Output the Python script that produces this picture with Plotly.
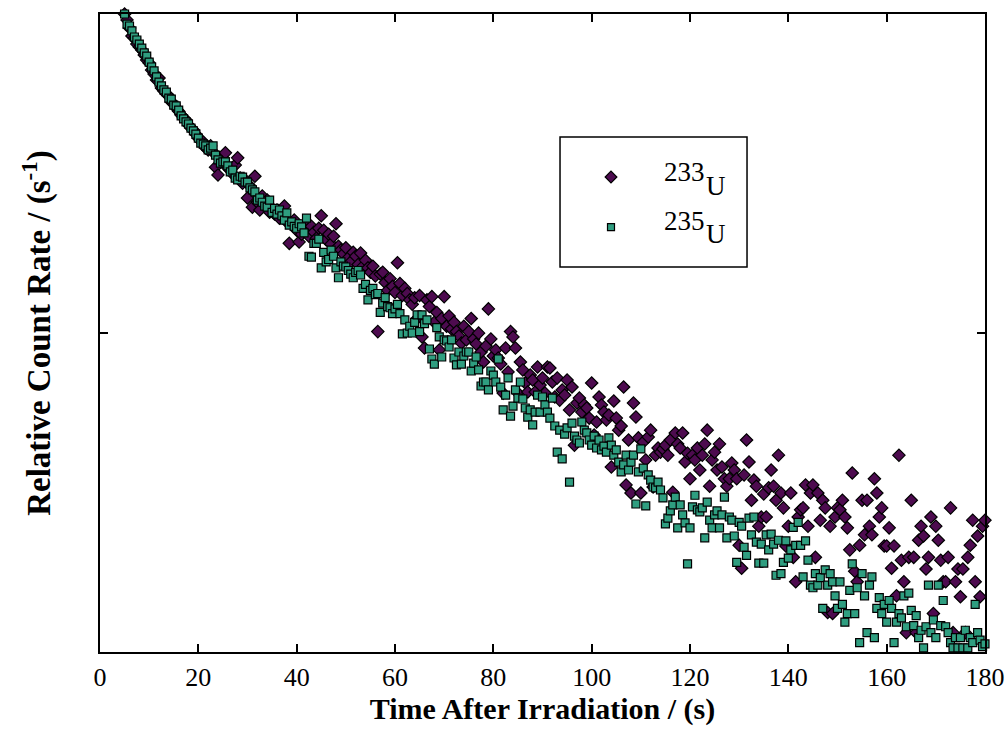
import numpy as np
import plotly.graph_objects as go

# Sample times (s): one reading every 0.5 s from 5 s to 180 s
time_s = np.arange(5.0, 180.0 + 0.25, 0.5)

# Relative count rate (scaled so the first reading = 1000), 233U
rate_233 = [
    1000, 958, 904, 853, 841, 805, 788, 771, 744, 717,
    702, 667, 648, 621, 630, 586, 574, 561, 553, 530,
    522, 507, 496, 482, 472, 465, 449, 439, 433, 420,
    408, 400, 397, 380, 375, 386, 369, 331, 313, 349,
    354, 367, 329, 324, 315, 336, 354, 306, 295, 302,
    265, 289, 248, 310, 257, 243, 269, 252, 261, 239,
    246, 236, 243, 229, 239, 250, 223, 191, 220, 226,
    210, 193, 204, 216, 220, 201, 216, 207, 198, 213,
    233, 210, 196, 204, 190, 201, 220, 187, 182, 177,
    185, 172, 167, 179, 174, 164, 178, 162, 169, 160,
    155, 162, 151, 101, 153, 155, 144, 136, 148, 140,
    134, 166, 143, 131, 138, 133, 127, 123, 129, 111,
    131, 97.2, 89.7, 127, 121, 130, 108, 116, 88.5, 111,
    130, 105, 113, 103, 108, 101, 97.9, 93.0, 105, 95.1,
    101, 111, 95.8, 92.4, 99.9, 87.2, 81.1, 91.0, 119, 95.8,
    84.7, 88.5, 83.5, 79.9, 64.8, 89.7, 75.5, 101, 97.2, 89.7,
    64.8, 81.1, 76.6, 69.7, 65.3, 73.8, 71.2, 65.3, 78.2, 68.7,
    72.3, 64.8, 78.2, 77.7, 70.2, 63.0, 72.3, 61.6, 66.3, 63.9,
    71.2, 57.4, 67.7, 44.5, 60.3, 62.5, 56.5, 59.5, 58.2, 54.1,
    69.7, 47.9, 52.6, 63.0, 59.5, 56.5, 53.4, 55.3, 38.0, 61.2,
    54.1, 49.6, 51.1, 67.7, 33.4, 46.2, 31.5, 60.3, 54.5, 46.9,
    31.5, 45.5, 40.0, 47.2, 49.6, 32.9, 41.4, 43.6, 42.3, 43.3,
    44.5, 41.4, 46.2, 31.7, 48.6, 44.9, 43.6, 48.6, 39.4, 42.0,
    34.9, 41.4, 40.0, 43.6, 37.2, 41.4, 44.9, 49.6, 33.1, 40.0,
    42.3, 37.2, 44.9, 38.0, 34.9, 33.1, 34.9, 39.1, 37.2, 34.9,
    21.6, 18.3, 35.9, 46.2, 39.4, 29.9, 34.6, 33.1, 24.8, 26.5,
    31.3, 26.5, 32.7, 37.2, 33.1, 29.9, 41.4, 31.5, 28.3, 21.5,
    24.8, 31.5, 19.8, 16.6, 26.5, 27.9, 28.3, 33.4, 24.8, 31.5,
    33.4, 19.8, 31.5, 25.9, 29.9, 28.3, 13.3, 24.8, 13.2, 26.5,
    28.3, 27.9, 29.9, 26.5, 24.5, 20.9, 36.4, 17.9, 16.6, 21.6,
    29.9, 23.3, 29.9, 24.8, 23.3, 34.9, 31.5, 26.5, 28.3, 21.5,
    21.5, 24.5, 18.3, 21.5, 15.0, 41.4, 19.4, 16.6, 11.5, 19.8,
    29.9, 19.8, 11.5, 22.4, 24.8, 23.1, 18.2, 19.8, 26.5, 13.2,
    24.8, 22.4, 19.4, 16.6, 16.6, 19.8, 28.3, 11.5, 16.6, 18.2,
    14.9, 18.2, 11.5, 19.8, 21.6, 25.9, 16.6, 23.1, 14.9, 24.8,
    25.9,
]

# Relative count rate (scaled so the first reading = 1000), 235U
rate_235 = [
    1000, 930, 917, 885, 847, 829, 805, 782, 755, 738,
    707, 682, 663, 635, 612, 595, 578, 569, 545, 541,
    518, 515, 500, 479, 469, 459, 452, 439, 430, 420,
    408, 394, 391, 386, 375, 380, 386, 361, 349, 341,
    344, 344, 334, 320, 324, 306, 302, 310, 308, 297,
    297, 285, 281, 277, 261, 265, 257, 250, 248, 261,
    239, 246, 236, 243, 233, 226, 238, 218, 223, 216,
    213, 220, 215, 206, 229, 174, 173, 191, 191, 197,
    160, 179, 167, 170, 182, 174, 160, 149, 167, 162,
    161, 157, 153, 149, 155, 157, 152, 138, 142, 127,
    136, 138, 132, 133, 116, 124, 129, 121, 120, 115,
    119, 123, 115, 99.3, 110, 100, 105, 100, 108, 114,
    101, 114, 107, 110, 89.1, 82.9, 79.9, 104, 97.2, 84.1,
    95.1, 94.4, 90.4, 95.1, 83.5, 79.4, 87.2, 79.9, 84.7, 87.2,
    87.2, 76.0, 80.5, 84.1, 76.6, 68.2, 70.2, 70.2, 66.3, 76.0,
    73.8, 70.2, 82.9, 67.7, 57.4, 63.9, 72.3, 54.9, 59.0, 66.3,
    62.5, 70.2, 62.1, 58.2, 54.5, 57.4, 51.5, 56.5, 63.9, 56.5,
    63.0, 59.5, 56.5, 54.1, 62.5, 51.1, 42.3, 49.6, 40.3, 48.2,
    50.4, 34.1, 52.2, 47.5, 46.2, 45.2, 52.6, 49.6, 48.6, 46.2,
    44.5, 47.5, 43.6, 46.2, 43.0, 44.2, 42.3, 46.9, 44.5, 41.4,
    43.0, 39.4, 36.7, 38.6, 41.4, 37.2, 39.4, 41.4, 29.1, 36.7,
    43.3, 37.7, 28.7, 35.9, 34.6, 32.9, 32.7, 34.1, 32.2, 30.4,
    25.2, 26.3, 27.7, 28.9, 30.6, 24.5, 28.9, 26.9, 25.4, 18.9,
    24.5, 28.5, 31.0, 27.9, 27.5, 28.3, 22.8, 29.5, 25.9, 24.5,
    26.9, 27.7, 24.5, 26.9, 30.6, 22.8, 26.5, 25.9, 23.1, 19.1,
    25.5, 24.8, 21.3, 20.1, 26.3, 23.3, 26.5, 22.1, 19.0, 21.8,
    19.0, 23.3, 20.9, 23.4, 21.8, 17.4, 22.4, 17.6, 19.1, 22.3,
    19.7, 20.9, 24.6, 21.6, 25.5, 21.6, 17.2, 22.3, 19.4, 16.2,
    15.9, 17.6, 16.2, 17.1, 13.7, 18.1, 16.2, 17.6, 16.6, 15.0,
    13.7, 16.6, 14.1, 12.4, 13.2, 15.6, 18.9, 13.2, 15.9, 10.7,
    17.6, 15.0, 11.5, 16.2, 17.2, 11.1, 13.7, 14.8, 13.2, 14.1,
    12.4, 14.5, 13.7, 10.7, 12.4, 13.2, 12.8, 15.0, 12.0, 15.3,
    13.5, 12.1, 13.0, 11.1, 11.7, 10.3, 12.0, 16.2, 11.5, 12.6,
    11.1, 16.2, 12.1, 14.5, 12.0, 11.5, 10.7, 10.3, 11.1, 10.3,
    11.1, 10.3, 11.7, 10.3, 11.1, 10.7, 14.1, 11.5, 10.9, 10.4,
    10.6,
]

x_ticks = [0, 20, 40, 60, 80, 100, 120, 140, 160, 180]
series_names = ["233", "235"]

assert len(rate_233) == len(time_s), len(rate_233)
assert len(rate_235) == len(time_s), len(rate_235)

PURPLE = "#4d0b4f"
GREEN = "#2f9e80"
FONT = "Liberation Serif"

fig = go.Figure()
fig.add_trace(go.Scatter(
    x=time_s, y=rate_233, mode="markers", name="233U", cliponaxis=False,
    marker=dict(symbol="diamond", size=9.5, color=PURPLE,
                line=dict(color="black", width=1.2)),
    showlegend=False,
))
fig.add_trace(go.Scatter(
    x=time_s, y=rate_235, mode="markers", name="235U", cliponaxis=False,
    marker=dict(symbol="square", size=8, color=GREEN,
                line=dict(color="black", width=1.2)),
    showlegend=False,
))

# Custom legend (box drawn in paper coordinates)
fig.add_trace(go.Scatter(
    x=[0.5774], y=[0.7445], xaxis="x2", yaxis="y2", mode="markers",
    cliponaxis=False, showlegend=False, hoverinfo="skip",
    marker=dict(symbol="diamond", size=9, color=PURPLE,
                line=dict(color="black", width=1.2)),
))
fig.add_trace(go.Scatter(
    x=[0.5774], y=[0.6661], xaxis="x2", yaxis="y2", mode="markers",
    cliponaxis=False, showlegend=False, hoverinfo="skip",
    marker=dict(symbol="square", size=7, color=GREEN,
                line=dict(color="black", width=1.2)),
))

fig.add_shape(type="rect", xref="paper", yref="paper",
              x0=0.5198, x1=0.7311, y0=0.6034, y1=0.8072,
              line=dict(color="black", width=1.5), fillcolor="rgba(0,0,0,0)")

leg_font = dict(family=FONT, size=27, color="black")
for name, ynum, yu in [(series_names[0], 0.752, 0.731), (series_names[1], 0.6755, 0.655)]:
    fig.add_annotation(x=0.635, y=ynum, xref="paper", yref="paper", text=name,
                       showarrow=False, xanchor="left", yanchor="middle", font=leg_font)
    fig.add_annotation(x=0.6825, y=yu, xref="paper", yref="paper", text="U",
                       showarrow=False, xanchor="left", yanchor="middle", font=leg_font)

fig.update_layout(
    width=1005, height=746,
    margin=dict(l=100, r=20, t=14, b=94, autoexpand=False),
    paper_bgcolor="white", plot_bgcolor="white",
    font=dict(family=FONT, color="black"),
    xaxis=dict(
        range=[0, 180], tickvals=x_ticks, ticktext=[str(v) for v in x_ticks],
        ticks="inside", ticklen=8, tickwidth=1.5, tickcolor="black",
        showline=True, linecolor="black", linewidth=2, mirror="ticks",
        showgrid=False, zeroline=False, ticklabelstandoff=1,
        ticklabeloverflow="allow", automargin=False,
        tickfont=dict(family=FONT, size=26, color="black"),
        title=dict(text="<b>Time After Irradiation / (s)</b>", standoff=0,
                   font=dict(family=FONT, size=30, color="black")),
    ),
    yaxis=dict(
        type="log", range=[1, 3], tickvals=[100], showticklabels=False,
        ticks="inside", ticklen=8, tickwidth=1.5, tickcolor="black",
        showline=True, linecolor="black", linewidth=2, mirror="ticks",
        showgrid=False, zeroline=False, automargin=False,
        title=dict(text="<b>Relative Count Rate / (s<sup>-1</sup>)</b>", standoff=37,
                   font=dict(family=FONT, size=33, color="black")),
    ),
    xaxis2=dict(overlaying="x", range=[0, 1], visible=False, anchor="y2"),
    yaxis2=dict(overlaying="y", range=[0, 1], visible=False, anchor="x2"),
)

fig.write_html("out.html")
